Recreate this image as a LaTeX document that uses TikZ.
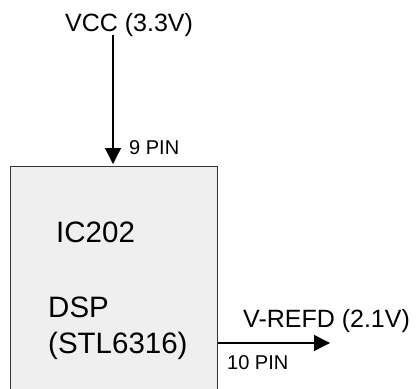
\documentclass[tikz,border=0pt]{standalone}
\usepackage{fontspec}
\setmainfont{Liberation Sans}
\usetikzlibrary{arrows.meta}
\definecolor{chipfill}{HTML}{EFEFEF}
\definecolor{chipline}{HTML}{333333}
\begin{document}
\begin{tikzpicture}[x=1pt,y=-1pt,
  lbl/.style={inner sep=0pt, anchor=base west},
  big/.style={font=\fontsize{25}{30}\selectfont},
  huge/.style={font=\fontsize{29.5}{36}\selectfont},
  small/.style={font=\fontsize{20}{24}\selectfont},
  wire/.style={line width=1.3pt, -{Triangle[length=16pt,width=16pt]}},
  chip/.style={draw=chipline, fill=chipfill, line width=1pt, inner sep=0pt, anchor=north west}]
\useasboundingbox (0,0) rectangle (417,388);
\clip (0,0) rectangle (417,388);
\node[chip, minimum width=207pt, minimum height=240pt] (ic) at (10,166) {};
\node[lbl, big] (vcc) at (65,31) {VCC (3.3V)};
\node[lbl, small] (pin9) at (129,154) {9 PIN};
\node[lbl, huge] (name) at (56,242) {IC202};
\node[lbl, huge, align=left] (dsp) at (48,317) {DSP};
\node[lbl, huge] (stl) at (48,353) {(STL6316)};
\node[lbl, big] (vref) at (243,327) {V-REFD (2.1V)};
\node[lbl, small] (pin10) at (227,369) {10 PIN};
\coordinate (vccpin) at (113,35);
\coordinate (out) at (330,343);
\draw[wire, shorten >=2pt] (vccpin) -- (vccpin |- ic.north);
\draw[wire] (ic.east |- out) -- (out);
\end{tikzpicture}
\end{document}
